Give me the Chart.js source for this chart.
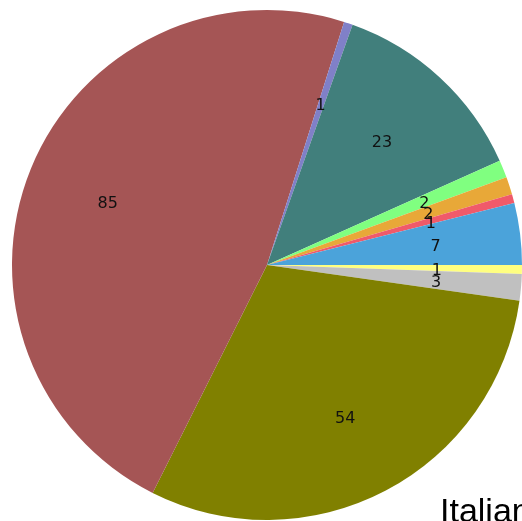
<!DOCTYPE html>
<html>
<head>
<meta charset="utf-8">
<script src="https://cdn.jsdelivr.net/npm/chart.js@4/dist/chart.umd.min.js"></script>
<style>
  html, body { margin: 0; padding: 0; background: #fff; overflow: hidden; }
  #wrap { width: 522px; height: 521px; }
</style>
</head>
<body>
<div id="wrap"><canvas id="myPieChart" width="522" height="521"></canvas></div>
<script>
// slices, clockwise starting at 3 o'clock
var categories = ['A', 'B', 'C', 'D', 'E', 'F', 'G', 'H', 'I', 'J'];
var values = [1, 3, 54, 85, 1, 23, 2, 2, 1, 7];
var sliceColors = ['#FFFF80', '#C0C0C0', '#808000', '#A55555', '#8080C8', '#417F7C',
                   '#80FF80', '#E8A838', '#F05A6A', '#4BA3DA'];
var cornerText = 'Italian';

// value labels inside the slices, at ~2/3 of the radius
var sliceLabels = {
    id: 'sliceLabels',
    afterDatasetsDraw: function (chart) {
        var c = chart.ctx;
        var meta = chart.getDatasetMeta(0);
        c.save();
        c.font = '16px "DejaVu Sans", Verdana, sans-serif';
        c.fillStyle = '#111';
        c.textAlign = 'center';
        c.textBaseline = 'middle';
        meta.data.forEach(function (arc, i) {
            var p = arc.getProps(['x', 'y', 'startAngle', 'endAngle', 'outerRadius'], true);
            var mid = (p.startAngle + p.endAngle) / 2;
            var r = p.outerRadius * 0.67;
            c.fillText(String(values[i]), p.x - 1 + Math.cos(mid) * r, p.y + 3 + Math.sin(mid) * r);
        });
        c.restore();
    }
};

// the cut-off caption at the bottom right
var cornerCaption = {
    id: 'cornerCaption',
    afterDraw: function (chart) {
        var c = chart.ctx;
        c.save();
        c.font = '34px "Liberation Sans", Arial, sans-serif';
        c.fillStyle = '#000';
        c.textAlign = 'left';
        c.textBaseline = 'alphabetic';
        c.fillText(cornerText, 440, 522);
        c.restore();
    }
};

var ctx = document.getElementById('myPieChart').getContext('2d');
var myPieChart = new Chart(ctx, {
    type: 'pie',
    data: {
        labels: categories,
        datasets: [{
            data: values,
            backgroundColor: sliceColors,
            borderWidth: 0
        }]
    },
    options: {
        responsive: false,
        animation: false,
        rotation: 90, // start at 3 o'clock
        layout: { padding: { left: 12, right: 0, top: 10, bottom: 1 } },
        plugins: {
            legend: { display: false },
            tooltip: { enabled: false }
        }
    },
    plugins: [sliceLabels, cornerCaption]
});
</script>
</body>
</html>
